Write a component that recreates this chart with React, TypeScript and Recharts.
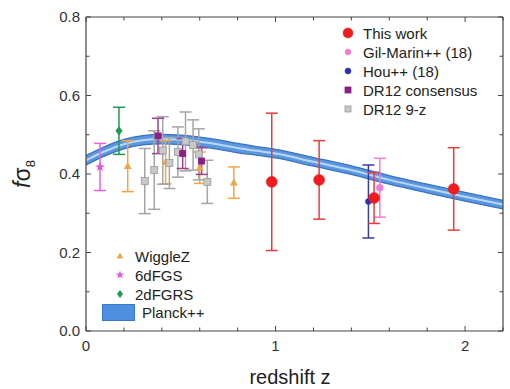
import {
  Area,
  ComposedChart,
  ErrorBar,
  Legend,
  Line,
  Scatter,
  XAxis,
  YAxis,
} from "recharts";

// Planck++ prediction band
const planckZ = [0, 0.1, 0.2, 0.3, 0.4, 0.5, 0.6, 0.7, 0.8, 0.9, 1.0, 1.2, 1.4, 1.6, 1.8, 2.0, 2.2];
const planckMid = [0.435, 0.458, 0.476, 0.486, 0.489, 0.487, 0.482, 0.475, 0.466, 0.459, 0.452, 0.431, 0.41, 0.385, 0.363, 0.342, 0.322];
const planckHi = [0.447, 0.47, 0.488, 0.498, 0.501, 0.499, 0.494, 0.487, 0.478, 0.47, 0.463, 0.442, 0.421, 0.396, 0.374, 0.353, 0.333];
const planckLo = [0.423, 0.446, 0.464, 0.474, 0.477, 0.475, 0.47, 0.463, 0.454, 0.448, 0.441, 0.42, 0.399, 0.374, 0.352, 0.331, 0.311];

// measurements: redshift, f*sigma8, error
const thisWorkZ = [0.98, 1.23, 1.52, 1.94];
const thisWorkV = [0.38, 0.385, 0.339, 0.362];
const thisWorkE = [0.175, 0.1, 0.065, 0.105];

const gilMarinZ = [1.55];
const gilMarinV = [0.365];
const gilMarinE = [0.075];

const houZ = [1.49];
const houV = [0.33];
const houE = [0.093];

const consensusZ = [0.38, 0.51, 0.61];
const consensusV = [0.497, 0.452, 0.433];
const consensusE = [0.045, 0.038, 0.034];

const nineZ = [0.31, 0.36, 0.405, 0.44, 0.485, 0.525, 0.565, 0.595, 0.64];
const nineV = [0.382, 0.41, 0.46, 0.428, 0.456, 0.483, 0.474, 0.45, 0.38];
const nineE = [0.083, 0.1, 0.086, 0.065, 0.064, 0.075, 0.064, 0.065, 0.055];

const wiggleZ = [0.22, 0.42, 0.6, 0.78];
const wiggleV = [0.42, 0.43, 0.416, 0.378];
const wiggleE = [0.065, 0.055, 0.04, 0.04];

const sixdfZ = [0.074];
const sixdfV = [0.418];
const sixdfE = [0.06];

const twodfZ = [0.174];
const twodfV = [0.51];
const twodfE = [0.06];

const xTicks = [0, 0.2, 0.4, 0.6, 0.8, 1, 1.2, 1.4, 1.6, 1.8, 2, 2.2];
const yTicks = [0, 0.1, 0.2, 0.3, 0.4, 0.5, 0.6, 0.7, 0.8];

const FONT = "'Liberation Sans', Arial, sans-serif";
const AXIS = "#444";

const bandData = planckZ.map((z, i) => ({
  z,
  mid: planckMid[i],
  band: [planckLo[i], planckHi[i]],
}));

const pts = (zs: number[], vs: number[], es: number[]) =>
  zs.map((z, i) => ({ z, v: vs[i], e: es[i] }));

type Kind = "circle" | "square" | "triangle" | "diamond" | "star";

function Marker({ cx, cy, kind, color, r, stroke }: any) {
  if (cx == null || cy == null) return null;
  const s = stroke || color;
  if (kind === "square")
    return <rect x={cx - r} y={cy - r} width={2 * r} height={2 * r} fill={color} stroke={s} strokeWidth={0.8} />;
  if (kind === "triangle")
    return (
      <polygon
        points={`${cx},${cy - r * 1.2} ${cx - r * 1.1},${cy + r * 0.8} ${cx + r * 1.1},${cy + r * 0.8}`}
        fill={color}
      />
    );
  if (kind === "diamond")
    return (
      <polygon
        points={`${cx},${cy - r * 1.3} ${cx + r},${cy} ${cx},${cy + r * 1.3} ${cx - r},${cy}`}
        fill={color}
      />
    );
  if (kind === "star") {
    const p: string[] = [];
    for (let i = 0; i < 10; i++) {
      const rr = i % 2 === 0 ? r * 1.4 : r * 0.6;
      const a = (Math.PI / 5) * i - Math.PI / 2;
      p.push(`${cx + rr * Math.cos(a)},${cy + rr * Math.sin(a)}`);
    }
    return <polygon points={p.join(" ")} fill={color} />;
  }
  return <circle cx={cx} cy={cy} r={r} fill={color} stroke={s} strokeWidth={0.5} />;
}

const series: {
  name: string;
  data: { z: number; v: number; e: number }[];
  kind: Kind;
  color: string;
  bar: string;
  r: number;
  stroke?: string;
}[] = [
  { name: "WiggleZ", data: pts(wiggleZ, wiggleV, wiggleE), kind: "triangle", color: "#f5a445", bar: "#f5a445", r: 3.5 },
  { name: "DR12 9-z", data: pts(nineZ, nineV, nineE), kind: "square", color: "#c8c8c8", bar: "#a5a5a5", r: 3.5, stroke: "#9a9a9a" },
  { name: "DR12 consensus", data: pts(consensusZ, consensusV, consensusE), kind: "square", color: "#8a1f86", bar: "#a0408f", r: 3 },
  { name: "6dFGS", data: pts(sixdfZ, sixdfV, sixdfE), kind: "star", color: "#e455e0", bar: "#ea5fe0", r: 3.5 },
  { name: "2dFGRS", data: pts(twodfZ, twodfV, twodfE), kind: "diamond", color: "#1d9a52", bar: "#1d9a52", r: 3.5 },
  { name: "Hou++ (18)", data: pts(houZ, houV, houE), kind: "circle", color: "#2b2fb8", bar: "#3a3aa8", r: 3 },
  { name: "Gil-Marin++ (18)", data: pts(gilMarinZ, gilMarinV, gilMarinE), kind: "circle", color: "#f27ad8", bar: "#f27ad8", r: 3.5 },
  { name: "This work", data: pts(thisWorkZ, thisWorkV, thisWorkE), kind: "circle", color: "#ee1c1c", bar: "#ee3a3a", r: 5.5 },
];

const topLegend = ["This work", "Gil-Marin++ (18)", "Hou++ (18)", "DR12 consensus", "DR12 9-z"];
const bottomLegend = ["WiggleZ", "6dFGS", "2dFGRS"];

const isMajorX = (v: number) => Math.abs(v - Math.round(v)) < 1e-6;
const isMajorY = (v: number) => Math.round(v * 10) % 2 === 0;

function BottomTick({ x, y, payload }: any) {
  const major = isMajorX(payload.value);
  return (
    <g>
      <line x1={x} x2={x} y1={y} y2={y - (major ? 5 : 3.5)} stroke={AXIS} />
      {major && (
        <text x={x} y={y + 20} textAnchor="middle" fontSize={15} fill="#333" fontFamily={FONT}>
          {Math.round(payload.value)}
        </text>
      )}
    </g>
  );
}

function TopTick({ x, y, payload }: any) {
  const major = isMajorX(payload.value);
  return <line x1={x} x2={x} y1={y} y2={y + (major ? 5 : 3.5)} stroke={AXIS} />;
}

function LeftTick({ x, y, payload }: any) {
  const major = isMajorY(payload.value);
  return (
    <g>
      <line x1={x} x2={x + (major ? 5 : 3.5)} y1={y} y2={y} stroke={AXIS} />
      {major && (
        <text x={x - 6} y={y + 5} textAnchor="end" fontSize={15} fill="#333" fontFamily={FONT}>
          {payload.value.toFixed(1)}
        </text>
      )}
    </g>
  );
}

function RightTick({ x, y, payload }: any) {
  const major = isMajorY(payload.value);
  return <line x1={x} x2={x - (major ? 5 : 3.5)} y1={y} y2={y} stroke={AXIS} />;
}

function LegendRow({ name, top, left }: { name: string; top: number; left: number }) {
  const s = series.find((d) => d.name === name)!;
  const r = name === "This work" ? 5 : 3;
  return (
    <div style={{ position: "absolute", top: top - 10, left: left - 10, height: 20, display: "flex", alignItems: "center" }}>
      <svg width={20} height={20}>
        <Marker cx={10} cy={10} kind={s.kind} color={s.color} r={r} stroke={s.stroke} />
      </svg>
      <span style={{ marginLeft: 5, fontSize: 15, color: "#222", fontFamily: FONT, whiteSpace: "nowrap" }}>{name}</span>
    </div>
  );
}

function ChartLegend() {
  return (
    <div style={{ position: "relative", width: 510, height: 389, pointerEvents: "none" }}>
      {topLegend.map((n, i) => (
        <LegendRow key={n} name={n} top={33 + i * 19} left={348} />
      ))}
      {bottomLegend.map((n, i) => (
        <LegendRow key={n} name={n} top={256 + i * 19} left={120} />
      ))}
      <div style={{ position: "absolute", top: 304, left: 102, display: "flex", alignItems: "center" }}>
        <div style={{ width: 33, height: 17, background: "#4f8fe0", border: "1px solid #3c78c8", boxSizing: "border-box" }} />
        <span style={{ marginLeft: 7, fontSize: 15, color: "#222", fontFamily: FONT }}>Planck++</span>
      </div>
    </div>
  );
}

export default function App() {
  return (
    <div style={{ position: "absolute", left: 0, top: 0, background: "#fff" }}>
      <ComposedChart width={510} height={389} data={bandData} margin={{ top: 0, right: 0, bottom: 0, left: 0 }}>
        <XAxis
          xAxisId="b"
          dataKey="z"
          type="number"
          domain={[0, 2.2]}
          ticks={xTicks}
          interval={0}
          allowDataOverflow
          height={58}
          tickLine={false}
          tickSize={0}
          tickMargin={0}
          tick={<BottomTick />}
          axisLine={{ stroke: AXIS, strokeWidth: 1.2 }}
          label={{
            content: () => (
              <text x={290} y={384} textAnchor="middle" fontSize={20} fill="#222" fontFamily={FONT}>
                redshift z
              </text>
            ),
          }}
        />
        <XAxis
          xAxisId="t"
          orientation="top"
          dataKey="z"
          type="number"
          domain={[0, 2.2]}
          ticks={xTicks}
          interval={0}
          allowDataOverflow
          height={17}
          tickLine={false}
          tickSize={0}
          tickMargin={0}
          tick={<TopTick />}
          axisLine={{ stroke: AXIS, strokeWidth: 1.2 }}
        />
        <YAxis
          yAxisId="l"
          type="number"
          domain={[0, 0.8]}
          ticks={yTicks}
          interval={0}
          allowDataOverflow
          width={86}
          tickLine={false}
          tickSize={0}
          tickMargin={0}
          tick={<LeftTick />}
          axisLine={{ stroke: AXIS, strokeWidth: 1.2 }}
          label={{
            content: () => (
              <text
                x={30}
                y={174}
                transform="rotate(-90, 30, 174)"
                textAnchor="middle"
                fontSize={23}
                fill="#222"
                fontFamily={FONT}
              >
                <tspan fontStyle="italic">f</tspan>
                <tspan>σ</tspan>
                <tspan fontSize={13} dy={5}>8</tspan>
              </text>
            ),
          }}
        />
        <YAxis
          yAxisId="r"
          orientation="right"
          type="number"
          domain={[0, 0.8]}
          ticks={yTicks}
          interval={0}
          allowDataOverflow
          width={7}
          tickLine={false}
          tickSize={0}
          tickMargin={0}
          tick={<RightTick />}
          axisLine={{ stroke: AXIS, strokeWidth: 1.2 }}
        />
        <Area
          xAxisId="b"
          yAxisId="l"
          dataKey="band"
          type="monotone"
          stroke="#3a72c2"
          strokeWidth={1.3}
          fill="#5a97de"
          fillOpacity={1}
          isAnimationActive={false}
        />
        <Line
          xAxisId="b"
          yAxisId="l"
          dataKey="mid"
          type="monotone"
          stroke="#b8d8f6"
          strokeWidth={2}
          dot={false}
          isAnimationActive={false}
        />
        {series.map((s) => (
          <Scatter
            key={s.name}
            name={s.name}
            xAxisId="b"
            yAxisId="l"
            data={s.data}
            dataKey="v"
            isAnimationActive={false}
            shape={(p: any) => <Marker cx={p.cx} cy={p.cy} kind={s.kind} color={s.color} r={s.r} stroke={s.stroke} />}
          >
            <ErrorBar dataKey="e" direction="y" width={6} stroke={s.bar} strokeWidth={1.5} />
          </Scatter>
        ))}
        <Legend
          layout="vertical"
          align="center"
          verticalAlign="middle"
          wrapperStyle={{ left: 0, top: 0, width: 510, height: 389 }}
          content={() => <ChartLegend />}
        />
      </ComposedChart>
    </div>
  );
}
